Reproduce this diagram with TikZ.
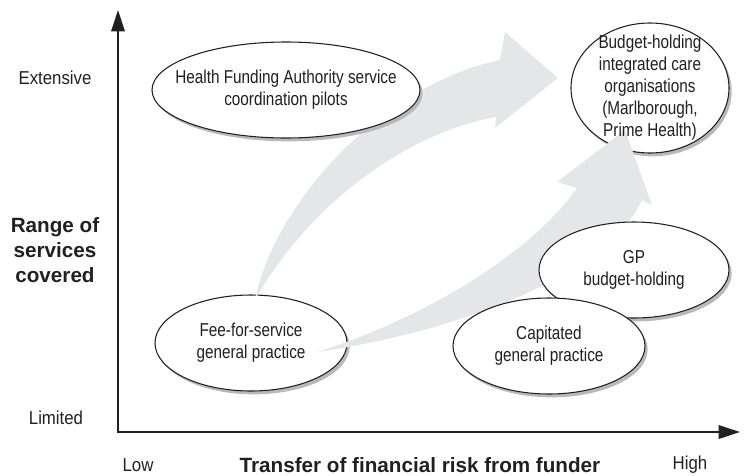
\documentclass[tikz,border=0pt]{standalone}
\usepackage{fontspec}
\setmainfont{Liberation Sans}
\newfontfamily\narrowfont[FakeStretch=0.82]{Liberation Sans}
\newfontfamily\axisfont[FakeStretch=0.9]{Liberation Sans}
\usepackage{tikz}
\usetikzlibrary{arrows.meta, shapes.geometric, shadows}

\definecolor{flowgray}{RGB}{229,230,231}
\definecolor{shadegray}{RGB}{185,185,185}
\definecolor{inkgray}{RGB}{35,31,32}

\tikzset{
  bubble/.style={ellipse, draw=inkgray, line width=0.8pt, fill=white, inner sep=0pt,
    drop shadow={shadow xshift=2pt, shadow yshift=-2.5pt, fill=shadegray, opacity=1}},
  bubbletext/.style={align=center, text=inkgray, font=\narrowfont\fontsize{14}{16.5}\selectfont},
  axislabel/.style={text=inkgray, font=\axisfont\fontsize{14}{16.5}\selectfont},
  axistitle/.style={align=center, text=inkgray, font=\bfseries\fontsize{15.5}{18.75}\selectfont},
  axisline/.style={draw=inkgray, line width=1.8pt, {Triangle[length=16pt,width=10pt]}-{Triangle[length=16pt,width=10pt]}},
}

\begin{document}
\begin{tikzpicture}[x=0.75pt, y=-0.75pt]
\useasboundingbox (0,0) rectangle (753,475);

% bubbles that lie under the gray flows
\node[bubble, minimum width=144pt, minimum height=72pt] (ffs) at (251,343) {};
\node[bubble, minimum width=118.5pt, minimum height=97.5pt] (bhico) at (650,88) {};

% gray flows
\fill[flowgray] (256,296) .. controls (275,205) and (380,85) .. (500,60) -- (505,32) -- (558,78)
  -- (495,128) -- (496,117) .. controls (420,130) and (320,190) .. (257,296) -- cycle;
\fill[flowgray] (317,352) .. controls (420,320) and (530,255) .. (577,188) -- (557,182) -- (625,130)
  -- (652,205) -- (642,200) .. controls (610,270) and (470,330) .. (317,352) -- cycle;

\node[bubble, minimum width=201pt, minimum height=72pt] (hfa) at (286,90) {};
\node[bubble, minimum width=142.5pt, minimum height=72pt] (gpbh) at (634,270) {};
\node[bubble, minimum width=144pt, minimum height=72pt] (cgp) at (549,346) {};

\node[bubbletext] (hfatext) at (hfa) {Health Funding Authority service\\coordination pilots};
\node[bubbletext] (bhicotext) at (bhico) {Budget-holding\\integrated care\\organisations\\(Marlborough,\\Prime Health)};
\node[bubbletext] (gpbhtext) at (gpbh) {GP\\budget-holding};
\node[bubbletext] (cgptext) at (cgp) {Capitated\\general practice};
\node[bubbletext] (ffstext) at (ffs) {Fee-for-service\\general practice};

% axes
\coordinate (origin) at (118,432);
\coordinate (ytip) at (118,10);
\coordinate (xtip) at (740,432);
\draw[axisline] (ytip) -- (origin) -- (xtip);

\node[axislabel] (extensive) at (55,78) {Extensive};
\node[axislabel] (limited) at (56,418) {Limited};
\node[axistitle] (range) at (55,250) {Range of\\services\\covered};
\node[axislabel] (low) at (138,465) {Low};
\node[axislabel] (high) at (690,465) {High};
\node[axistitle] (transfer) at (420,465) {Transfer of financial risk from funder};
\end{tikzpicture}
\end{document}
